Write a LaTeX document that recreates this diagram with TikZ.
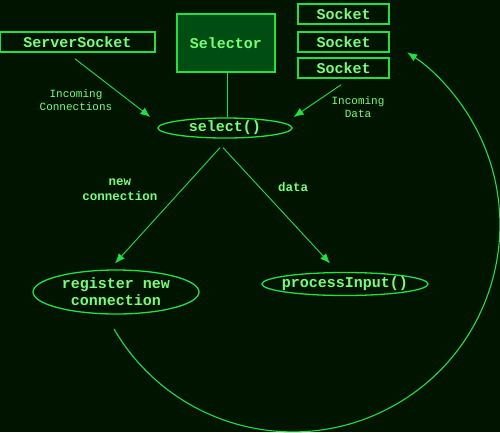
\documentclass[tikz,border=0pt]{standalone}
\usepackage{fontspec}
\newfontfamily\cour{Liberation Mono}
\usetikzlibrary{shapes.geometric,arrows.meta,calc}
\definecolor{bgc}{HTML}{001400}
\definecolor{lnc}{HTML}{22E040}
\definecolor{txc}{HTML}{78FF78}
\definecolor{selc}{HTML}{004D14}
\tikzset{
  boxn/.style={draw=lnc, line width=1.6pt, text=txc, font=\cour\bfseries\fontsize{15}{17}\selectfont, inner sep=0pt},
  ell/.style={ellipse, draw=lnc, line width=1.3pt, inner sep=0pt},
  etxt/.style={text=txc, font=\cour\bfseries\fontsize{15}{17}\selectfont, align=center, inner sep=0pt},
  lab/.style={text=txc, font=\cour\fontsize{11}{13}\selectfont, align=center, inner sep=0pt},
  labb/.style={text=txc, font=\cour\bfseries\fontsize{12.5}{15}\selectfont, align=center, inner sep=0pt},
  arr/.style={draw=lnc, line width=0.9pt, -{Latex[length=10pt,width=8pt]}},
  plain/.style={draw=lnc, line width=0.9pt}
}
\begin{document}
\begin{tikzpicture}[x=1pt,y=-1pt]
\fill[bgc] (0,0) rectangle (500,432);
\useasboundingbox (0,0) rectangle (500,432);
% boxes
\node[boxn, minimum width=155pt, minimum height=20pt] (ss) at (77.5,42) {ServerSocket};
\node[boxn, fill=selc, minimum width=98pt, minimum height=58pt] (selr) at (226,43) {Selector};
\node[boxn, minimum width=91pt, minimum height=20pt] (so1) at (343.5,14) {Socket};
\node[boxn, minimum width=91pt, minimum height=20pt] (so2) at (343.5,42) {Socket};
\node[boxn, minimum width=91pt, minimum height=20pt] (so3) at (343.5,68) {Socket};
% ellipses
\node[ell, minimum width=134pt, minimum height=20pt] (sel) at (225,128) {};
\node[etxt] (selt) at (225,128) {select()};
\node[ell, minimum width=166pt, minimum height=44pt] (reg) at (116,292) {};
\node[etxt] (regt) at (116,292) {register new\\connection};
\node[ell, minimum width=166pt, minimum height=23pt] (proc) at (345,284) {};
\node[etxt] (proct) at (345,284) {processInput()};
% labels
\node[lab] (l1) at (76,100) {Incoming\\Connections};
\node[lab] (l2) at (358,107) {Incoming\\Data};
\node[labb] (l3) at (120,190) {new\\connection};
\node[labb] (l4) at (293,187) {data};
% connectors
\draw[plain] ($(selr.south)+(1,0)$) -- ($(selr.south |- sel.north)+(1,0)$);
\draw[arr] ($(ss.south)+(-2.5,6)$) -- ($(sel.west)+(-7,-11)$);
\draw[arr] ($(so3.south)+(-2.5,6)$) -- ($(sel.east)+(1,-11)$);
\draw[arr] ($(sel.south)+(-5,9)$) -- ($(reg.north)+(-1,-6)$);
\draw[arr] ($(sel.south)+(-2,9)$) -- ($(proc.north)+(-15,-8.5)$);
\coordinate (arcs) at (114,329);
\draw[arr, line width=1.1pt] (arcs) arc[start angle=149.8, end angle=-56.5, radius=207];
\end{tikzpicture}
\end{document}
